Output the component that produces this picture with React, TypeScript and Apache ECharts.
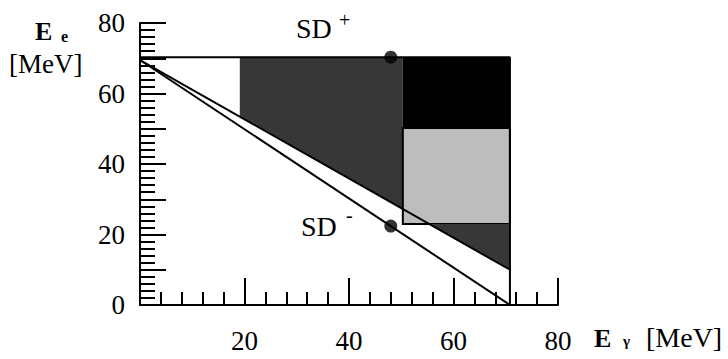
import React, { useEffect, useRef } from "react";
import * as echarts from "echarts";

// Axis ranges and labels
const xRange = [0, 80];
const yRange = [0, 80];
const xLabelValues = [20, 40, 60, 80];
const yLabelValues = [0, 20, 40, 60, 80];

// Kinematic region (E_gamma, E_e) in MeV
const frameLine = [[0, 70.3], [70.8, 70.3], [70.8, 0]];
const lowerDiagonal = [[0, 69.5], [70.8, 0]];
const upperDiagonal = [[0, 69.5], [70.8, 10]];

// Shaded regions
const darkUpper = [[19.1, 70.3], [50.3, 70.3], [50.3, 27.3], [19.1, 53.5]];
const blackRect = [[50.3, 70.3], [70.8, 70.3], [70.8, 50.2], [50.3, 50.2]];
const lightBox = [[50.3, 50.2], [70.8, 50.2], [70.8, 23], [50.3, 23]];
const darkLower = [[55.4, 23], [70.8, 23], [70.8, 10]];

// SD+ and SD- points
const sdPoints = [[48, 70.3], [48, 22.4]];

const SERIF = "Liberation Serif, serif";

function polySeries(pts: number[][], fill: string, stroke?: string) {
  return {
    type: "custom",
    coordinateSystem: "cartesian2d",
    silent: true,
    clip: false,
    data: pts,
    renderItem: (params: any, api: any) => {
      if (params.dataIndex !== 0) return { type: "group", children: [] };
      return {
        type: "polygon",
        shape: { points: pts.map((p) => api.coord(p)) },
        style: { fill, stroke: stroke || "none", lineWidth: 2 },
      };
    },
  };
}

function lineSeries(pts: number[][], width = 2) {
  return {
    type: "line",
    data: pts,
    symbol: "none",
    silent: true,
    lineStyle: { color: "#000", width },
  };
}

function txt(text: string, x: number, y: number, size: number, bold = false) {
  return {
    type: "text",
    x,
    y,
    style: {
      text,
      fontFamily: SERIF,
      fontSize: size,
      fontWeight: bold ? "bold" : "normal",
      fill: "#000",
      verticalAlign: "middle",
      align: "left",
    },
  };
}

export default function App() {
  const ref = useRef<HTMLDivElement>(null);

  useEffect(() => {
    if (!ref.current) return;
    const chart = echarts.init(ref.current, undefined, { renderer: "svg" });
    const axisText = { fontFamily: SERIF, fontSize: 27, color: "#000" };
    chart.setOption({
      animation: false,
      backgroundColor: "#fff",
      grid: { left: 140, top: 23, width: 418, height: 282, containLabel: false, outerBoundsMode: "none" },
      xAxis: {
        type: "value",
        min: xRange[0],
        max: xRange[1],
        interval: 20,
        axisLine: { lineStyle: { color: "#000", width: 2 } },
        axisTick: { inside: true, length: 27, lineStyle: { color: "#000", width: 2 } },
        minorTick: { show: true, splitNumber: 5, length: 13, lineStyle: { color: "#000", width: 2 } },
        splitLine: { show: false },
        minorSplitLine: { show: false },
        axisLabel: {
          ...axisText,
          margin: 22,
          formatter: (v: number) => (xLabelValues.includes(v) ? String(v) : ""),
        },
      },
      yAxis: {
        type: "value",
        min: yRange[0],
        max: yRange[1],
        interval: 10,
        axisLine: { lineStyle: { color: "#000", width: 2 } },
        axisTick: { inside: true, length: 26, lineStyle: { color: "#000", width: 2 } },
        minorTick: { show: true, splitNumber: 5, length: 15, lineStyle: { color: "#000", width: 2 } },
        splitLine: { show: false },
        minorSplitLine: { show: false },
        axisLabel: {
          ...axisText,
          margin: 15,
          formatter: (v: number) => (yLabelValues.includes(v) ? String(v) : ""),
        },
      },
      series: [
        lineSeries(upperDiagonal),
        polySeries(darkUpper, "#373737"),
        polySeries(blackRect, "#000"),
        polySeries(lightBox, "#bdbdbd", "#000"),
        polySeries(darkLower, "#373737"),
        lineSeries(lowerDiagonal),
        lineSeries(frameLine),
        {
          type: "scatter",
          data: sdPoints,
          symbol: "circle",
          symbolSize: 13,
          silent: true,
          itemStyle: { color: "#000" },
        },
      ],
      graphic: [
        txt("E", 35, 31, 26, true),
        txt("e", 61, 36, 16, true),
        txt("[MeV]", 9, 64, 27),
        txt("E", 594, 338, 26, true),
        txt("γ", 623, 341, 15, true),
        txt("[MeV]", 646, 337, 28),
        txt("SD", 296, 28, 28),
        txt("+", 339, 20, 20),
        txt("SD", 301, 226, 28),
        txt("-", 346, 215, 20),
      ],
    });
    return () => chart.dispose();
  }, []);

  return <div ref={ref} style={{ position: "absolute", left: 0, top: 0, width: 728, height: 359 }} />;
}
